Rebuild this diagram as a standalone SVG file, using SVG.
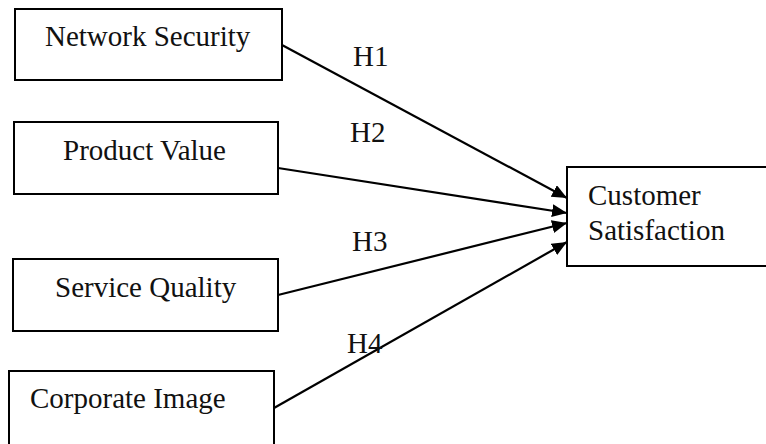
<svg xmlns="http://www.w3.org/2000/svg" width="766" height="444" viewBox="0 0 766 444">
  <style>
    .box { fill: #ffffff; stroke: #000000; stroke-width: 2; }
    .label { font-family: "Liberation Serif", "Times New Roman", serif; font-size: 29px; fill: #111111; }
    .link { fill: none; stroke: #000000; stroke-width: 2.2; marker-end: url(#arrow); }
  </style>
  <defs>
    <marker id="arrow" markerUnits="userSpaceOnUse" markerWidth="16" markerHeight="14" refX="15" refY="6.5" orient="auto">
      <path d="M0,0 L15,6.5 L0,13 Z" fill="#000000"/>
    </marker>
  </defs>
  <rect width="766" height="444" fill="#ffffff"/>

  <g id="network-security">
    <rect class="box" x="15" y="9" width="267" height="71"/>
    <text class="label" x="45" y="46">Network Security</text>
  </g>
  <g id="product-value">
    <rect class="box" x="14" y="122" width="264" height="72"/>
    <text class="label" x="63" y="160">Product Value</text>
  </g>
  <g id="service-quality">
    <rect class="box" x="13" y="259" width="265" height="72"/>
    <text class="label" x="55" y="297">Service Quality</text>
  </g>
  <g id="corporate-image">
    <rect class="box" x="9" y="371" width="265" height="80"/>
    <text class="label" x="30" y="408">Corporate Image</text>
  </g>
  <g id="customer-satisfaction">
    <rect class="box" x="567" y="167" width="210" height="99"/>
    <text class="label" x="588" y="205">Customer</text>
    <text class="label" x="588" y="240">Satisfaction</text>
  </g>

  <g id="connectors">
    <line class="link" x1="282" y1="45" x2="567" y2="198"/>
    <line class="link" x1="278" y1="168" x2="567" y2="213"/>
    <line class="link" x1="278" y1="295" x2="567" y2="223"/>
    <line class="link" x1="274" y1="408" x2="567" y2="242"/>
    <text class="label" x="353" y="66">H1</text>
    <text class="label" x="350" y="142">H2</text>
    <text class="label" x="352" y="251">H3</text>
    <text class="label" x="347" y="353">H4</text>
  </g>
</svg>
